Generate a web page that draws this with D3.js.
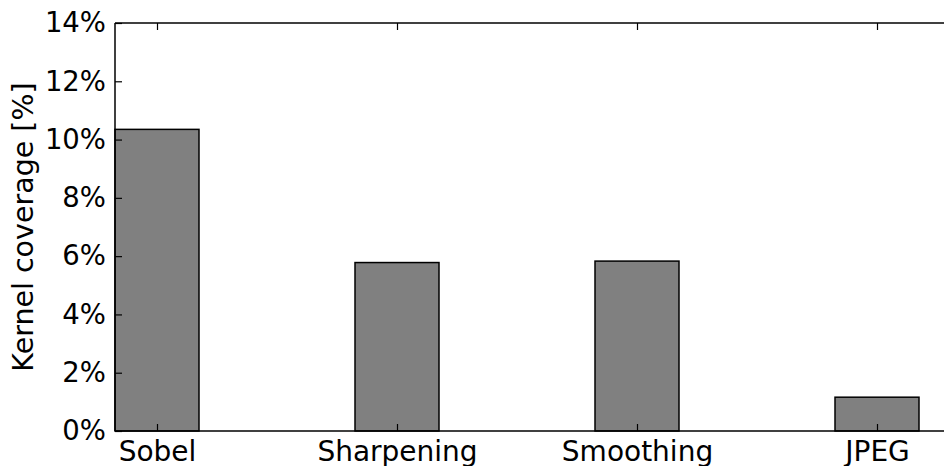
<!DOCTYPE html>
<html>
<head>
<meta charset="utf-8">
<script src="https://cdn.jsdelivr.net/npm/d3@7"></script>
<style>
  html, body { margin: 0; padding: 0; background: #fff; }
  svg { display: block; }
  text { font-family: "DejaVu Sans", sans-serif; fill: #000; }
</style>
</head>
<body>
<svg id="chart" width="944" height="466"></svg>
<script>
// Kernel coverage per image-processing benchmark
const categories = ["Sobel", "Sharpening", "Smoothing", "JPEG"];
const coverage = [10.35, 5.78, 5.83, 1.16];
const yTicks = [0, 2, 4, 6, 8, 10, 12, 14];

const W = 944, H = 466;
const margin = { left: 115, top: 23, bottom: 35 };
const plotBottom = H - margin.bottom;
const barWidth = 0.35;

const svg = d3.select("#chart");

// x in category units: bars start at integer positions, ticks at bar centres
const x = d3.scaleLinear().domain([0, 3.6]).range([margin.left, margin.left + 3.6 * 240]);
const y = d3.scaleLinear().domain([0, 14]).range([plotBottom, margin.top]);

const plot = svg.append("g");

// bars
plot.selectAll("rect.bar")
  .data(coverage)
  .join("rect")
  .attr("class", "bar")
  .attr("x", (d, i) => x(i))
  .attr("y", d => y(d))
  .attr("width", x(barWidth) - x(0))
  .attr("height", d => y(0) - y(d))
  .attr("fill", "#808080")
  .attr("stroke", "#000")
  .attr("stroke-width", 1.5);

const tickPos = categories.map((c, i) => i + barWidth / 2);
const fmt = d => d + "%";

// left axis (inward ticks)
const yAxis = d3.axisLeft(y).tickValues(yTicks).tickFormat(fmt).tickSize(-7).tickPadding(9);
const gy = svg.append("g").attr("transform", `translate(${margin.left},0)`).call(yAxis);
gy.select(".domain").remove();
gy.selectAll("line").attr("stroke", "#000").attr("stroke-width", 1.2);
gy.selectAll("text").attr("font-size", 27.5).attr("font-family", "DejaVu Sans, sans-serif");

// bottom axis (inward ticks)
const xAxis = d3.axisBottom(x).tickValues(tickPos)
  .tickFormat((d, i) => categories[i]).tickSize(-7).tickPadding(10);
const gx = svg.append("g").attr("transform", `translate(0,${plotBottom})`).call(xAxis);
gx.select(".domain").remove();
gx.selectAll("line").attr("stroke", "#000").attr("stroke-width", 1.2);
gx.selectAll("text").attr("font-size", 28).attr("font-family", "DejaVu Sans, sans-serif");

// top axis ticks (inward, no labels)
const xTop = d3.axisTop(x).tickValues(tickPos).tickFormat("").tickSize(-7);
const gt = svg.append("g").attr("transform", `translate(0,${margin.top})`).call(xTop);
gt.select(".domain").remove();
gt.selectAll("line").attr("stroke", "#000").attr("stroke-width", 1.2);

// spines
const spine = svg.append("g").attr("stroke", "#000").attr("stroke-width", 1.5).attr("fill", "none");
spine.append("line").attr("x1", margin.left).attr("x2", margin.left).attr("y1", margin.top).attr("y2", plotBottom);
spine.append("line").attr("x1", margin.left).attr("x2", W).attr("y1", margin.top).attr("y2", margin.top);
spine.append("line").attr("x1", margin.left).attr("x2", W).attr("y1", plotBottom).attr("y2", plotBottom);

// y-axis title
svg.append("text")
  .attr("transform", `translate(33,${(margin.top + plotBottom) / 2}) rotate(-90)`)
  .attr("text-anchor", "middle")
  .attr("font-size", 28.5)
  .text("Kernel coverage [%]");
</script>
</body>
</html>
